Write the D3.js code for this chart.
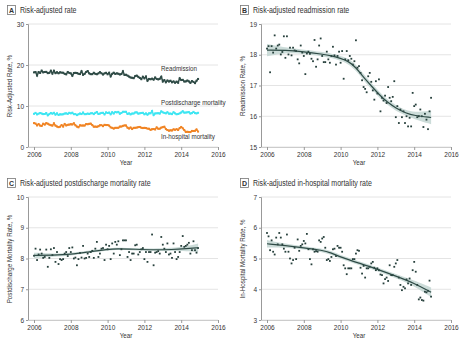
<!DOCTYPE html>
<html>
<head>
<meta charset="utf-8">
<script src="https://cdn.jsdelivr.net/npm/d3@7"></script>
<style>
  body { margin: 0; background: #fff; }
  svg text { font-family: "Liberation Sans", Arial, sans-serif; fill: #333; }
</style>
</head>
<body>
<svg id="chart" width="467" height="345"></svg>
<script>
// monthly values, Jan 2006 .. Dec 2014
var readmission = [
  18.20, 18.28, 17.43, 18.28, 18.07, 18.63, 18.20, 18.30, 18.33, 18.01, 18.09, 18.60,
  17.90, 18.60, 18.01, 18.23, 17.98, 18.23, 18.14, 18.12, 17.85, 17.72, 18.30, 18.07,
  17.96, 17.37, 18.04, 18.10, 18.03, 17.87, 17.79, 18.48, 17.61, 17.85, 18.30, 18.53,
  17.96, 17.76, 17.76, 18.10, 17.85, 17.74, 17.96, 18.26, 17.98, 17.68, 17.96, 18.10,
  17.74, 18.12, 17.22, 17.85, 18.12, 17.82, 17.96, 17.87, 17.68, 17.79, 18.47, 17.58,
  17.63, 17.41, 17.17, 16.95, 16.89, 16.78, 17.30, 17.41, 17.12, 16.84, 16.54, 17.14,
  16.74, 17.20, 16.16, 16.60, 16.51, 16.67, 16.43, 16.95, 16.60, 16.49, 16.63, 17.14,
  15.97, 16.33, 15.78, 16.22, 15.97, 16.16, 15.78, 16.00, 15.67, 15.95, 15.67, 16.76,
  16.33, 16.38, 15.97, 16.00, 16.22, 16.00, 15.65, 16.08, 15.89, 15.58, 16.16, 16.60
];
var postdischarge = [
  8.09, 8.32, 7.95, 8.13, 8.29, 8.16, 8.02, 8.05, 8.29, 7.73, 8.02, 8.30,
  8.11, 8.34, 7.89, 8.21, 7.82, 7.98, 7.95, 7.98, 8.16, 8.21, 8.08, 8.34,
  8.21, 8.36, 8.00, 8.03, 7.78, 7.98, 8.18, 8.03, 8.41, 8.00, 8.02, 8.16,
  8.05, 8.21, 8.25, 8.02, 8.32, 8.54, 8.05, 8.16, 8.32, 8.34, 7.95, 8.45,
  8.30, 8.41, 7.98, 8.49, 8.16, 8.54, 8.45, 8.56, 8.11, 8.30, 8.59, 8.59,
  8.59, 8.05, 8.21, 7.95, 8.16, 8.16, 8.43, 8.45, 8.13, 8.21, 8.30, 8.34,
  7.98, 8.21, 7.89, 8.21, 8.21, 8.78, 7.78, 8.19, 8.21, 8.24, 8.16, 8.70,
  8.45, 8.32, 8.21, 8.49, 8.13, 8.16, 8.02, 8.49, 8.21, 7.98, 8.05, 8.21,
  8.41, 8.73, 8.38, 8.41, 8.45, 8.51, 8.16, 8.27, 8.56, 8.27, 8.19, 8.34
];
var inhospital = [
  5.83, 5.72, 5.27, 5.59, 5.22, 5.13, 5.68, 5.46, 5.83, 5.68, 5.46, 5.32,
  5.22, 5.78, 5.22, 5.00, 4.84, 4.95, 5.35, 4.98, 5.62, 5.25, 5.41, 5.46,
  5.57, 5.49, 5.80, 5.30, 4.98, 4.81, 5.30, 5.22, 5.24, 5.22, 5.59, 5.54,
  5.65, 5.70, 5.35, 4.95, 4.98, 4.92, 5.05, 5.30, 5.32, 5.08, 5.41, 5.35,
  5.35, 5.22, 4.78, 4.68, 4.49, 4.68, 4.68, 4.68, 4.98, 4.98, 5.16, 5.27,
  5.25, 4.70, 4.51, 4.76, 4.38, 4.68, 4.68, 4.73, 4.84, 4.89, 4.70, 4.62,
  4.68, 4.62, 4.48, 4.46, 4.19, 4.33, 4.38, 4.27, 4.78, 4.46, 4.46, 4.73,
  4.84, 4.95, 4.38, 4.14, 3.97, 4.08, 4.03, 4.32, 4.19, 4.35, 4.14, 4.62,
  4.89, 4.57, 4.14, 3.67, 3.73, 3.65, 3.63, 3.92, 3.90, 3.95, 4.28, 3.76
];

// smoothed fits: [year, fit, half width of band]
var readmissionFit = [
  [2006, 18.15, 0.20], [2007, 18.15, 0.08], [2008, 18.10, 0.07], [2009, 18.02, 0.07],
  [2009.5, 17.97, 0.07], [2010, 17.88, 0.08], [2010.4, 17.80, 0.09], [2010.85, 17.58, 0.10],
  [2011.2, 17.30, 0.10], [2011.65, 17.00, 0.10], [2012.1, 16.70, 0.10], [2012.55, 16.45, 0.09],
  [2013, 16.27, 0.09], [2013.55, 16.10, 0.09], [2014, 16.02, 0.11], [2014.92, 15.96, 0.22]
];
var postdischargeFit = [
  [2006, 8.10, 0.09], [2007, 8.11, 0.05], [2008, 8.13, 0.04], [2009, 8.22, 0.04],
  [2010, 8.30, 0.04], [2010.5, 8.32, 0.04], [2011.5, 8.30, 0.04], [2012.5, 8.28, 0.04],
  [2013.5, 8.29, 0.05], [2014.3, 8.32, 0.08], [2014.92, 8.35, 0.14]
];
var inhospitalFit = [
  [2006, 5.48, 0.12], [2007, 5.42, 0.06], [2008, 5.35, 0.05], [2009, 5.27, 0.06],
  [2009.5, 5.18, 0.06], [2010, 5.05, 0.06], [2011, 4.85, 0.06], [2012, 4.65, 0.06],
  [2013, 4.43, 0.07], [2014, 4.20, 0.09], [2014.92, 3.90, 0.16]
];

var yearTicks = [2006, 2008, 2010, 2012, 2014, 2016];
var rateTicks = [0, 10, 20, 30];
var readmitTicks = [15, 16, 17, 18, 19];
var postTicks = [6, 7, 8, 9, 10];
var inhospTicks = [3, 4, 5, 6, 7];

var svg = d3.select("#chart");
var dark = "#2f4b46";
var narrow = 0.78; // reference font is condensed

function toPoints(arr) {
  return arr.map(function (v, i) { return { year: 2006 + i / 12, value: v }; });
}

// condensed-looking text
function label(g, x, y, txt, size, anchor, rot) {
  return g.append("text")
    .attr("transform", "translate(" + x + "," + y + ")" + (rot ? " rotate(" + rot + ")" : "") + " scale(" + narrow + ",1)")
    .attr("text-anchor", anchor || "start")
    .style("font-size", size + "px")
    .text(txt);
}

function panel(opt) {
  var g = svg.append("g").attr("transform", "translate(" + opt.x + "," + opt.y + ")");
  var x = d3.scaleLinear().domain([2006, 2016]).range([34, 218]);
  var y = d3.scaleLinear().domain(opt.domain).range([147, 24]);

  // title
  g.append("rect").attr("x", 7.5).attr("y", 5.5).attr("width", 8).attr("height", 9)
    .attr("fill", "#fff").attr("stroke", "#777").attr("stroke-width", 0.8);
  g.append("text").attr("x", 11.5).attr("y", 12.6).attr("text-anchor", "middle")
    .style("font-size", "7px").style("font-weight", "bold").text(opt.letter);
  label(g, 20, 13, opt.title, 9);

  // grid
  g.selectAll(".grid").data(opt.ticks).enter().append("line")
    .attr("x1", 28).attr("x2", 218)
    .attr("y1", function (d) { return y(d); }).attr("y2", function (d) { return y(d); })
    .attr("stroke", "#e4e4e4").attr("stroke-width", 1);

  // y axis
  var ya = g.append("g").attr("transform", "translate(28,0)")
    .call(d3.axisLeft(y).tickValues(opt.ticks).tickSize(2).tickPadding(2).tickFormat(d3.format("d")));
  ya.select(".domain").attr("stroke", "#999");
  ya.selectAll(".tick line").attr("stroke", "#999");
  ya.selectAll("text").style("font-size", "6.5px").attr("fill", "#444");

  // x axis
  var xa = g.append("g").attr("transform", "translate(0,147)")
    .call(d3.axisBottom(x).tickValues(yearTicks).tickSize(3).tickPadding(2).tickFormat(d3.format("d")));
  xa.select(".domain").attr("stroke", "#ccc").attr("d", "M28,0.5H218");
  xa.selectAll(".tick line").attr("stroke", "#999");
  xa.selectAll("text").style("font-size", "6.5px").attr("fill", "#444");

  label(g, 126, 165, "Year", 8, "middle");
  label(g, 12, 86, opt.ylabel, 8, "middle", -90);

  return { g: g, x: x, y: y };
}

function fitPanel(p, data, fit) {
  var area = d3.area().curve(d3.curveBasis)
    .x(function (d) { return p.x(d[0]); })
    .y0(function (d) { return p.y(d[1] - d[2]); })
    .y1(function (d) { return p.y(d[1] + d[2]); });
  p.g.append("path").datum(fit).attr("d", area).attr("fill", "#c3d6d2").attr("opacity", 0.85);

  p.g.selectAll(".pt").data(toPoints(data)).enter().append("rect")
    .attr("x", function (d) { return p.x(d.year) - 0.9; })
    .attr("y", function (d) { return p.y(d.value) - 0.9; })
    .attr("width", 1.8).attr("height", 1.8).attr("fill", "#27403c");

  var line = d3.line().curve(d3.curveBasis)
    .x(function (d) { return p.x(d[0]); })
    .y(function (d) { return p.y(d[1]); });
  p.g.append("path").datum(fit).attr("d", line).attr("fill", "none")
    .attr("stroke", dark).attr("stroke-width", 1.2);
}

// A
var pa = panel({ x: 0, y: 0, letter: "A", title: "Risk-adjusted rate", domain: [0, 30],
  ticks: rateTicks, ylabel: "Risk-Adjusted Rate, %" });
var seriesA = [
  { name: "Readmission", data: readmission, color: "#2f4b46", ly: 71 },
  { name: "Postdischarge mortality", data: postdischarge, color: "#3ee6f2", ly: 105 },
  { name: "In-hospital mortality", data: inhospital, color: "#f08424", ly: 139 }
];
seriesA.forEach(function (s) {
  var pts = toPoints(s.data);
  var line = d3.line().x(function (d) { return pa.x(d.year); }).y(function (d) { return pa.y(d.value); });
  pa.g.append("path").datum(pts).attr("d", line).attr("fill", "none")
    .attr("stroke", s.color).attr("stroke-width", 1.5);
  pa.g.selectAll(null).data(pts).enter().append("rect")
    .attr("x", function (d) { return pa.x(d.year) - 1; })
    .attr("y", function (d) { return pa.y(d.value) - 1; })
    .attr("width", 2).attr("height", 2).attr("fill", s.color);
  label(pa.g, 161, s.ly, s.name, 8);
});

// B
var pb = panel({ x: 233, y: 0, letter: "B", title: "Risk-adjusted readmission rate", domain: [15, 19],
  ticks: readmitTicks, ylabel: "Readmission Rate, %" });
fitPanel(pb, readmission, readmissionFit);

// C
var pc = panel({ x: 0, y: 173, letter: "C", title: "Risk-adjusted postdischarge mortality rate", domain: [6, 10],
  ticks: postTicks, ylabel: "Postdischarge Mortality Rate, %" });
fitPanel(pc, postdischarge, postdischargeFit);

// D
var pd = panel({ x: 233, y: 173, letter: "D", title: "Risk-adjusted in-hospital mortality rate", domain: [3, 7],
  ticks: inhospTicks, ylabel: "In-Hospital Mortality Rate, %" });
fitPanel(pd, inhospital, inhospitalFit);
</script>
</body>
</html>
